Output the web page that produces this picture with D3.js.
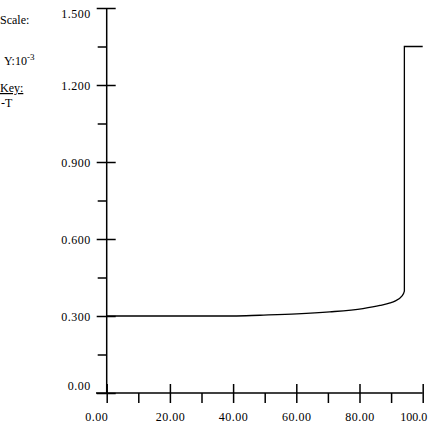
<!DOCTYPE html>
<html>
<head>
<meta charset="utf-8">
<script src="https://cdn.jsdelivr.net/npm/d3@7"></script>
<style>
  html, body { margin: 0; padding: 0; background: #fff; }
  svg { display: block; font-family: "Liberation Serif", "Times New Roman", serif; }
  .axis path, .axis line { stroke: #000; stroke-width: 1.5; }
  .axis text { fill: #000; font-size: 12px; letter-spacing: 0.5px; font-family: "Liberation Serif", serif; }
</style>
</head>
<body>
<svg id="chart"></svg>
<script>
// DATA
const xValues = [0, 40, 48.5, 60.2, 70.6, 81.1, 86.5, 89.7, 91.2, 93.4, 94.2, 94.2, 100]
const tValues = [0.300, 0.300, 0.303, 0.308, 0.316, 0.329, 0.341, 0.351, 0.358, 0.377, 0.397, 1.350, 1.350]

const xMajorTicks = [0, 20, 40, 60, 80, 100]
const xMinorTicks = [10, 30, 50, 70, 90]
const xTickLabels = ['0.00', '20.00', '40.00', '60.00', '80.00', '100.0']

const yMajorTicks = [0, 0.3, 0.6, 0.9, 1.2, 1.5]
const yMinorTicks = [0.15, 0.45, 0.75, 1.05, 1.35]
const yTickLabels = ['0.00', '0.300', '0.600', '0.900', '1.200', '1.500']

// SIZE
const totalWidth = 429, totalHeight = 428

const svg = d3.select('#chart')
  .attr('width', totalWidth)
  .attr('height', totalHeight)

// SCALES
const x = d3.scaleLinear().domain([0, 100]).range([106.7, 422.7])
const y = d3.scaleLinear().domain([0, 1.5]).range([393, 8])

// Y AXIS - major ticks cross the axis line
const yAxis = svg.append('g')
  .attr('class', 'axis')
  .attr('transform', `translate(${x(0)}, 0)`)
  .call(d3.axisLeft(y)
    .tickValues(yMajorTicks)
    .tickSizeOuter(0)
    .tickPadding(6)
    .tickFormat((d, i) => yTickLabels[i]))
yAxis.select('.domain').attr('d', `M0,${y(1.5)}V${y(0)}`)
yAxis.selectAll('.tick line').attr('x1', 9).attr('x2', -10)
yAxis.selectAll('.tick text')
  .attr('x', -16)
  .attr('dy', (d, i) => i === 0 ? '-0.3em' : (i === yMajorTicks.length - 1 ? '0.8em' : '0.35em'))

svg.append('g')
  .attr('class', 'axis')
  .attr('transform', `translate(${x(0)}, 0)`)
  .call(d3.axisLeft(y).tickValues(yMinorTicks).tickSize(9).tickFormat(''))
  .select('.domain').remove()

// X AXIS
const xAxis = svg.append('g')
  .attr('class', 'axis')
  .attr('transform', `translate(0, ${y(0)})`)
  .call(d3.axisBottom(x)
    .tickValues(xMajorTicks)
    .tickSizeOuter(0)
    .tickPadding(13)
    .tickFormat((d, i) => xTickLabels[i]))
xAxis.select('.domain').attr('d', `M${x(0) - 10.7},0H${x(100)}`)
xAxis.selectAll('.tick line').attr('y1', -9).attr('y2', 10)
xAxis.selectAll('.tick text')
  .filter((d, i) => i === 0)
  .attr('text-anchor', 'end')
  .attr('dx', '1px')
// last label sits inside the right edge
xAxis.selectAll('.tick text')
  .filter((d, i) => i === xMajorTicks.length - 1)
  .attr('text-anchor', 'end')
  .attr('dx', '4px')
  .style('letter-spacing', '0px')

svg.append('g')
  .attr('class', 'axis')
  .attr('transform', `translate(0, ${y(0)})`)
  .call(d3.axisBottom(x).tickValues(xMinorTicks).tickSize(10).tickFormat(''))
  .select('.domain').remove()

// SERIES LINE
const data = xValues.map((v, i) => ({ x: v, t: tValues[i] }))
svg.append('path')
  .datum(data)
  .attr('fill', 'none')
  .attr('stroke', '#000')
  .attr('stroke-width', 1.3)
  .attr('d', d3.line()
    .x(d => x(d.x))
    .y(d => y(d.t))
    .curve(d3.curveMonotoneX))

// SCALE / KEY TEXT
const side = svg.append('g')
  .style('font-size', '12px')
  .attr('fill', '#000')

side.append('text').attr('x', 0).attr('y', 24).text('Scale:')

const yScaleText = side.append('text').attr('x', 4).attr('y', 65)
yScaleText.append('tspan').text('Y:10')
yScaleText.append('tspan').attr('dy', -5).style('font-size', '9px').text('-3')

side.append('text').attr('x', 0).attr('y', 92)
  .style('text-decoration', 'underline')
  .text('Key:')
side.append('text').attr('x', 1).attr('y', 107).text('-T')
</script>
</body>
</html>
